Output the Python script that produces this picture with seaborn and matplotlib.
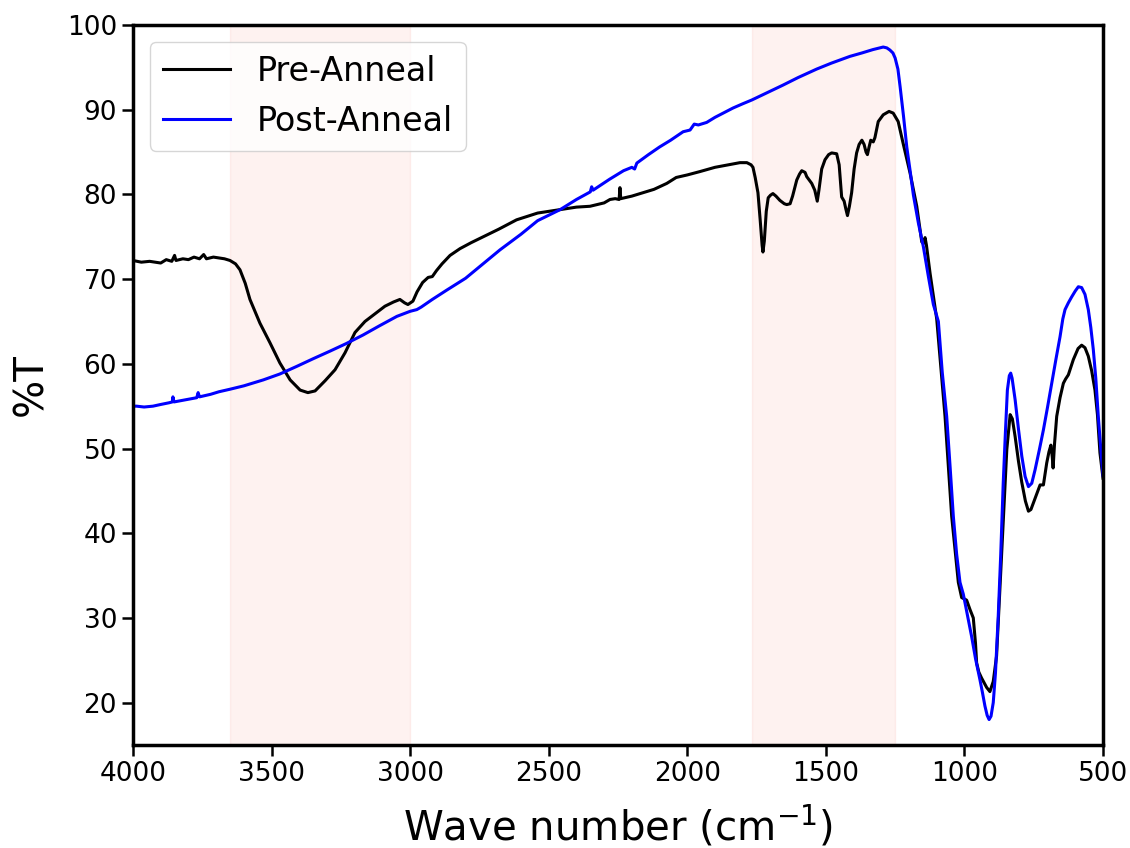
"""
FTIR transmittance before and after annealing, with the two
absorption windows of interest shaded.
"""
import pandas as pd
import matplotlib
matplotlib.use("Agg")
import matplotlib.pyplot as plt
import seaborn as sns

# 1. Spectra (wave number in cm^-1, %T)
pre_wn = [4000, 3970, 3940, 3900, 3880, 3860, 3850, 3845, 3820, 3800,
          3780, 3760, 3745, 3735, 3710, 3690, 3670, 3650, 3630, 3614,
          3595, 3578, 3560, 3542, 3506, 3470, 3433, 3397, 3369, 3343,
          3307, 3271, 3235, 3199, 3163, 3127, 3091, 3060, 3037, 3020,
          3008, 2990, 2975, 2955, 2935, 2920, 2905, 2885, 2856, 2820,
          2780, 2736, 2680, 2616, 2540, 2459, 2400, 2351, 2300, 2279,
          2260, 2246, 2243, 2240, 2200, 2160, 2120, 2074, 2040, 2000,
          1954, 1900, 1850, 1810, 1785, 1770, 1763, 1755, 1745, 1737,
          1730, 1727, 1722, 1715, 1708, 1700, 1691, 1680, 1666, 1650,
          1641, 1629, 1620, 1605, 1595, 1587, 1575, 1569, 1551, 1540,
          1531, 1525, 1515, 1503, 1490, 1479, 1461, 1452, 1443, 1434,
          1428, 1422, 1415, 1407, 1398, 1389, 1380, 1370, 1362, 1355,
          1350, 1344, 1338, 1329, 1323, 1311, 1293, 1272, 1257, 1239,
          1221, 1196, 1172, 1154, 1148, 1142, 1137, 1124, 1100, 1070,
          1046, 1022, 1010, 992, 980, 968, 960, 956, 948, 938,
          920, 908, 896, 884, 865, 847, 835, 827, 817, 805,
          793, 780, 769, 760, 751, 740, 727, 715, 703, 695,
          688, 683, 680, 675, 667, 655, 643, 635, 625, 607,
          590, 577, 565, 553, 541, 529, 520, 511, 500]
pre_t = [72.2, 72.0, 72.1, 71.9, 72.3, 72.1, 72.8, 72.2, 72.4, 72.3,
         72.6, 72.4, 72.9, 72.4, 72.6, 72.5, 72.4, 72.2, 71.8, 71.1,
         69.5, 67.6, 66.2, 64.8, 62.5, 60.1, 58.1, 56.9, 56.6, 56.8,
         58.0, 59.3, 61.3, 63.7, 65.0, 65.9, 66.8, 67.3, 67.6, 67.2,
         67.0, 67.4, 68.5, 69.6, 70.2, 70.3, 71.0, 71.8, 72.8, 73.6,
         74.3, 75.0, 75.9, 77.0, 77.8, 78.2, 78.5, 78.6, 79.0, 79.4,
         79.5, 79.4, 80.8, 79.5, 79.8, 80.2, 80.6, 81.3, 82.0, 82.3,
         82.7, 83.2, 83.5, 83.75, 83.75, 83.5, 83.2, 82.0, 80.2, 77.0,
         74.0, 73.2, 74.5, 78.0, 79.6, 79.9, 80.1, 79.8, 79.3, 78.9,
         78.8, 78.9, 79.8, 81.7, 82.4, 82.8, 82.6, 82.1, 81.3, 80.5,
         79.2, 80.5, 83.0, 84.1, 84.7, 84.9, 84.8, 83.5, 79.7, 79.2,
         78.3, 77.5, 78.6, 80.2, 83.0, 84.9, 85.9, 86.4, 85.9, 85.0,
         84.7, 85.6, 86.4, 86.2, 86.7, 88.6, 89.4, 89.8, 89.6, 88.6,
         86.0, 82.5, 78.6, 74.4, 74.2, 74.9, 74.0, 70.7, 65.3, 53.8,
         42.0, 34.2, 32.4, 32.1, 31.0, 30.0, 27.0, 24.7, 23.6, 22.9,
         21.8, 21.3, 22.5, 25.5, 38.1, 49.9, 54.0, 53.5, 51.4, 48.5,
         46.0, 43.8, 42.6, 42.8, 43.6, 44.6, 45.7, 45.7, 48.3, 49.6,
         50.4, 49.0, 47.7, 50.5, 53.8, 56.0, 57.7, 58.2, 58.7, 60.5,
         61.8, 62.2, 61.9, 60.9, 59.2, 56.9, 54.0, 49.5, 46.5]

post_wn = [4000, 3987, 3960, 3928, 3900, 3870, 3858, 3856, 3852, 3820,
           3790, 3770, 3765, 3760, 3720, 3690, 3650, 3600, 3530, 3470,
           3409, 3350, 3289, 3230, 3170, 3110, 3048, 3000, 2976, 2960,
           2920, 2868, 2800, 2748, 2676, 2600, 2540, 2459, 2400, 2350,
           2345, 2340, 2280, 2230, 2200, 2190, 2182, 2140, 2100, 2060,
           2015, 1990, 1975, 1960, 1930, 1900, 1835, 1800, 1767, 1700,
           1655, 1600, 1533, 1480, 1413, 1370, 1330, 1293, 1280, 1269,
           1258, 1250, 1240, 1232, 1220, 1208, 1196, 1184, 1166, 1148,
           1130, 1112, 1094, 1080, 1064, 1052, 1040, 1028, 1016, 1004,
           998, 986, 974, 960, 944, 935, 926, 918, 911, 904,
           896, 888, 878, 869, 860, 852, 845, 838, 833, 828,
           817, 805, 793, 781, 769, 757, 745, 730, 715, 700,
           685, 670, 655, 645, 637, 625, 613, 600, 589, 577,
           565, 553, 544, 535, 526, 517, 508, 500]
post_t = [55.0, 55.0, 54.9, 55.0, 55.2, 55.4, 55.5, 56.1, 55.5, 55.7,
          55.9, 56.0, 56.6, 56.1, 56.4, 56.7, 57.0, 57.4, 58.1, 58.8,
          59.7, 60.6, 61.5, 62.4, 63.4, 64.5, 65.6, 66.2, 66.4, 66.7,
          67.6, 68.7, 70.1, 71.5, 73.45, 75.3, 76.9, 78.2, 79.4, 80.3,
          80.9, 80.5, 81.8, 82.8, 83.2, 83.0, 83.7, 84.7, 85.6, 86.4,
          87.4, 87.6, 88.3, 88.2, 88.5, 89.1, 90.2, 90.7, 91.15, 92.2,
          92.9, 93.8, 94.8, 95.5, 96.3, 96.7, 97.1, 97.4, 97.3, 97.05,
          96.7, 96.1, 94.8, 92.7, 89.3, 85.6, 82.8, 79.9, 76.6, 73.8,
          70.3, 67.0, 65.0, 59.0, 53.8, 48.0, 42.0, 37.5, 34.2, 32.8,
          31.8, 29.8, 27.8, 25.2, 22.7, 21.2, 19.6, 18.5, 18.0, 18.4,
          20.0, 23.5, 30.2, 37.5, 45.9, 52.0, 56.9, 58.6, 58.9, 58.3,
          55.75, 52.3, 49.1, 46.7, 45.5, 45.9, 47.5, 49.8, 52.2, 54.9,
          57.7, 60.5, 63.2, 65.3, 66.4, 67.2, 67.9, 68.6, 69.1, 69.0,
          68.2, 66.4, 64.3, 61.7, 58.3, 53.8, 50.0, 46.8]

# shaded windows (cm^-1)
spans = [(3650, 3000), (1765, 1250)]

# 2. Long-form table for seaborn
df = pd.concat([
    pd.DataFrame({'wn': pre_wn, 'T': pre_t, 'sample': 'Pre-Anneal'}),
    pd.DataFrame({'wn': post_wn, 'T': post_t, 'sample': 'Post-Anneal'}),
], ignore_index=True)

# 3. Plot
fig = plt.figure(figsize=(11.3, 8.48), dpi=100)
ax = fig.add_axes([0.1177, 0.1215, 0.8584, 0.849])

for hi, lo in spans:
    ax.axvspan(lo, hi, color='salmon', alpha=0.1, lw=1)

sns.lineplot(data=df, x='wn', y='T', hue='sample',
             palette={'Pre-Anneal': 'black', 'Post-Anneal': 'blue'},
             linewidth=2.2, sort=False, estimator=None, ax=ax)

ax.set_xlim(4000, 500)
ax.set_ylim(15, 100)
ax.set_xticks(range(4000, 499, -500))
ax.set_yticks(range(20, 101, 10))
ax.set_xlabel('Wave number (cm$^{-1}$)', fontsize=29, labelpad=12)
ax.set_ylabel('%T', fontsize=29, labelpad=11)
ax.tick_params(labelsize=19, length=8, width=1.8)
for sp in ax.spines.values():
    sp.set_linewidth(2.5)

leg = ax.legend(loc='upper left', fontsize=24, title=None)
for line in leg.get_lines():
    line.set_linewidth(2.2)

plt.savefig('out.png', dpi=100)
